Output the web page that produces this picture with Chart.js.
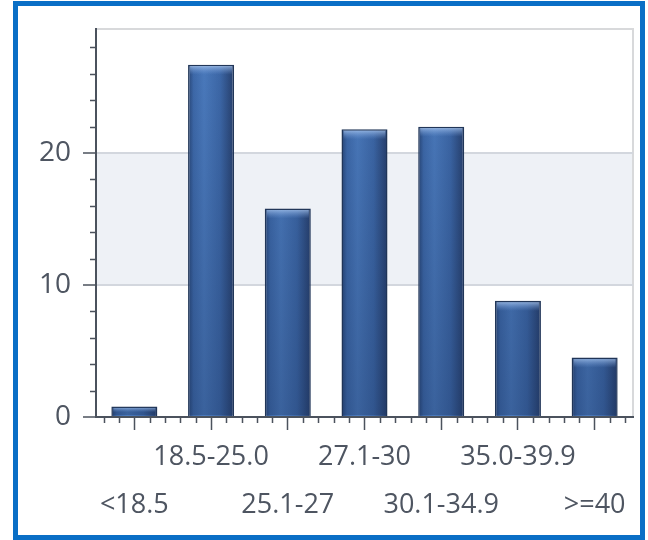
<!DOCTYPE html>
<html>
<head>
<meta charset="utf-8">
<script src="https://cdn.jsdelivr.net/npm/chart.js@4/dist/chart.umd.min.js"></script>
<style>
  html, body { margin: 0; padding: 0; background: #ffffff; }
  #wrap { position: relative; width: 648px; height: 540px; overflow: hidden; }
  #frame { position: absolute; left: 13px; top: 1px; width: 632px; height: 539px;
           box-sizing: border-box; border: 5px solid #0a6fc6; pointer-events: none; }
  canvas { position: absolute; left: 0; top: 0; }
</style>
</head>
<body>
<div id="wrap">
  <canvas id="c" width="648" height="540"></canvas>
  <div id="frame"></div>
</div>
<script>
// BMI groups and their share (%)
const categories = ['<18.5', '18.5-25.0', '25.1-27', '27.1-30', '30.1-34.9', '35.0-39.9', '>=40'];
const values = [0.8, 26.7, 15.8, 21.8, 22.0, 8.8, 4.5];
const yMajorTicks = [0, 10, 20];
const yMinorStep = 2;
const xMinorStep = 0.2;
const yMax = 29.4;

const FONT = "'Open Sans', 'Noto Sans', sans-serif";
const AXIS = '#4b525d';
const LABEL = '#4e5561';

function barFill(c) {
  const ch = c.chart;
  const xs = ch.scales.x;
  if (!xs || !ch.chartArea) return '#3d68a8';
  const cx = xs.getPixelForValue(c.dataIndex);
  const w = xs.width / categories.length * 0.6;
  const g = ch.ctx.createLinearGradient(cx - w / 2, 0, cx + w / 2, 0);
  g.addColorStop(0, '#284677');
  g.addColorStop(0.12, '#3e6aab');
  g.addColorStop(0.35, '#4b7bbe');
  g.addColorStop(0.7, '#3d68a8');
  g.addColorStop(1, '#273f6c');
  return g;
}

const decor = {
  id: 'decor',
  beforeDraw(chart) {
    const { ctx, chartArea: a, scales: { y } } = chart;
    ctx.save();
    // shaded band between 10 and 20
    const t = y.getPixelForValue(20), b = y.getPixelForValue(10);
    ctx.fillStyle = '#eef1f6';
    ctx.fillRect(a.left, t, a.right - a.left, b - t);
    // plot frame (top and right)
    ctx.strokeStyle = '#d8d9db';
    ctx.lineWidth = 2;
    ctx.beginPath();
    ctx.moveTo(a.left, a.top);
    ctx.lineTo(a.right, a.top);
    ctx.lineTo(a.right, a.bottom);
    ctx.stroke();
    ctx.restore();
  },
  afterDatasetsDraw(chart) {
    const { ctx, chartArea: a } = chart;
    const meta = chart.getDatasetMeta(0);
    ctx.save();
    meta.data.forEach(el => {
      const x0 = el.x - el.width / 2, x1 = el.x + el.width / 2;
      const top = el.y, bot = el.base;
      // darken toward the base
      const vg = ctx.createLinearGradient(0, a.top, 0, a.bottom);
      vg.addColorStop(0, 'rgba(20,40,80,0)');
      vg.addColorStop(1, 'rgba(20,40,80,0.3)');
      ctx.fillStyle = vg;
      ctx.fillRect(x0 + 1, top + 1, x1 - x0 - 2, bot - top - 2);
      // top bevel highlight
      const h = Math.min(10, (bot - top) * 0.6);
      const hg = ctx.createLinearGradient(0, top, 0, top + h);
      hg.addColorStop(0, 'rgba(180,208,245,0.8)');
      hg.addColorStop(1, 'rgba(120,160,220,0)');
      ctx.fillStyle = hg;
      ctx.fillRect(x0 + 2, top + 1.5, x1 - x0 - 4, h);
    });
    ctx.restore();
  },
  afterDraw(chart) {
    const { ctx, chartArea: a, scales: { x, y } } = chart;
    ctx.save();
    ctx.strokeStyle = AXIS;
    ctx.lineWidth = 1.5;
    ctx.beginPath();
    // minor ticks on the value axis
    for (let v = 0; v <= yMax; v += yMinorStep) {
      if (yMajorTicks.includes(v)) continue;
      const py = Math.round(y.getPixelForValue(v)) + 0.5;
      ctx.moveTo(a.left - 6, py);
      ctx.lineTo(a.left, py);
    }
    // minor ticks on the category axis
    for (let k = -3; k <= categories.length * 5 + 3; k++) {
      if (k % 5 === 0) continue;
      const v = k * xMinorStep;
      const px = x.getPixelForValue(v);
      if (px <= a.left + 2 || px >= a.right - 2) continue;
      const rx = Math.round(px) + 0.5;
      ctx.moveTo(rx, a.bottom);
      ctx.lineTo(rx, a.bottom + 6);
    }
    ctx.stroke();
    ctx.restore();
  }
};

new Chart(document.getElementById('c'), {
  type: 'bar',
  data: {
    labels: categories,
    datasets: [{
      data: values,
      backgroundColor: barFill,
      borderColor: '#213658',
      borderWidth: 1.5,
      borderSkipped: 'bottom',
      barPercentage: 0.6,
      categoryPercentage: 1.0
    }]
  },
  options: {
    responsive: false,
    animation: false,
    devicePixelRatio: 1,
    layout: { padding: { top: 29, right: 15, left: 0, bottom: 0 } },
    plugins: { legend: { display: false }, tooltip: { enabled: false } },
    scales: {
      x: {
        offset: true,
        grid: { offset: false, drawOnChartArea: false, tickLength: 13, tickColor: AXIS, tickWidth: 1.5 },
        border: { color: AXIS, width: 2 },
        ticks: {
          autoSkip: false, maxRotation: 0, minRotation: 0, padding: 3,
          color: LABEL,
          font: { family: FONT, size: 27, weight: '500', lineHeight: 48 / 27 },
          callback: (v, i) => (i % 2 ? [categories[i]] : ['', categories[i]])
        },
        afterFit(s) { s.height = 123; }
      },
      y: {
        min: 0, max: yMax,
        afterBuildTicks(s) { s.ticks = yMajorTicks.map(v => ({ value: v })); },
        grid: {
          color: c => (c.tick && c.tick.value === 0 ? 'rgba(0,0,0,0)' : '#d3d7de'),
          lineWidth: 2, tickLength: 13, tickColor: AXIS, tickWidth: 1.5
        },
        border: { color: AXIS, width: 2 },
        ticks: { padding: 12, color: LABEL, font: { family: FONT, size: 28, weight: '500' } },
        afterFit(s) { s.width = 96; }
      }
    }
  },
  plugins: [decor]
});
</script>
</body>
</html>
